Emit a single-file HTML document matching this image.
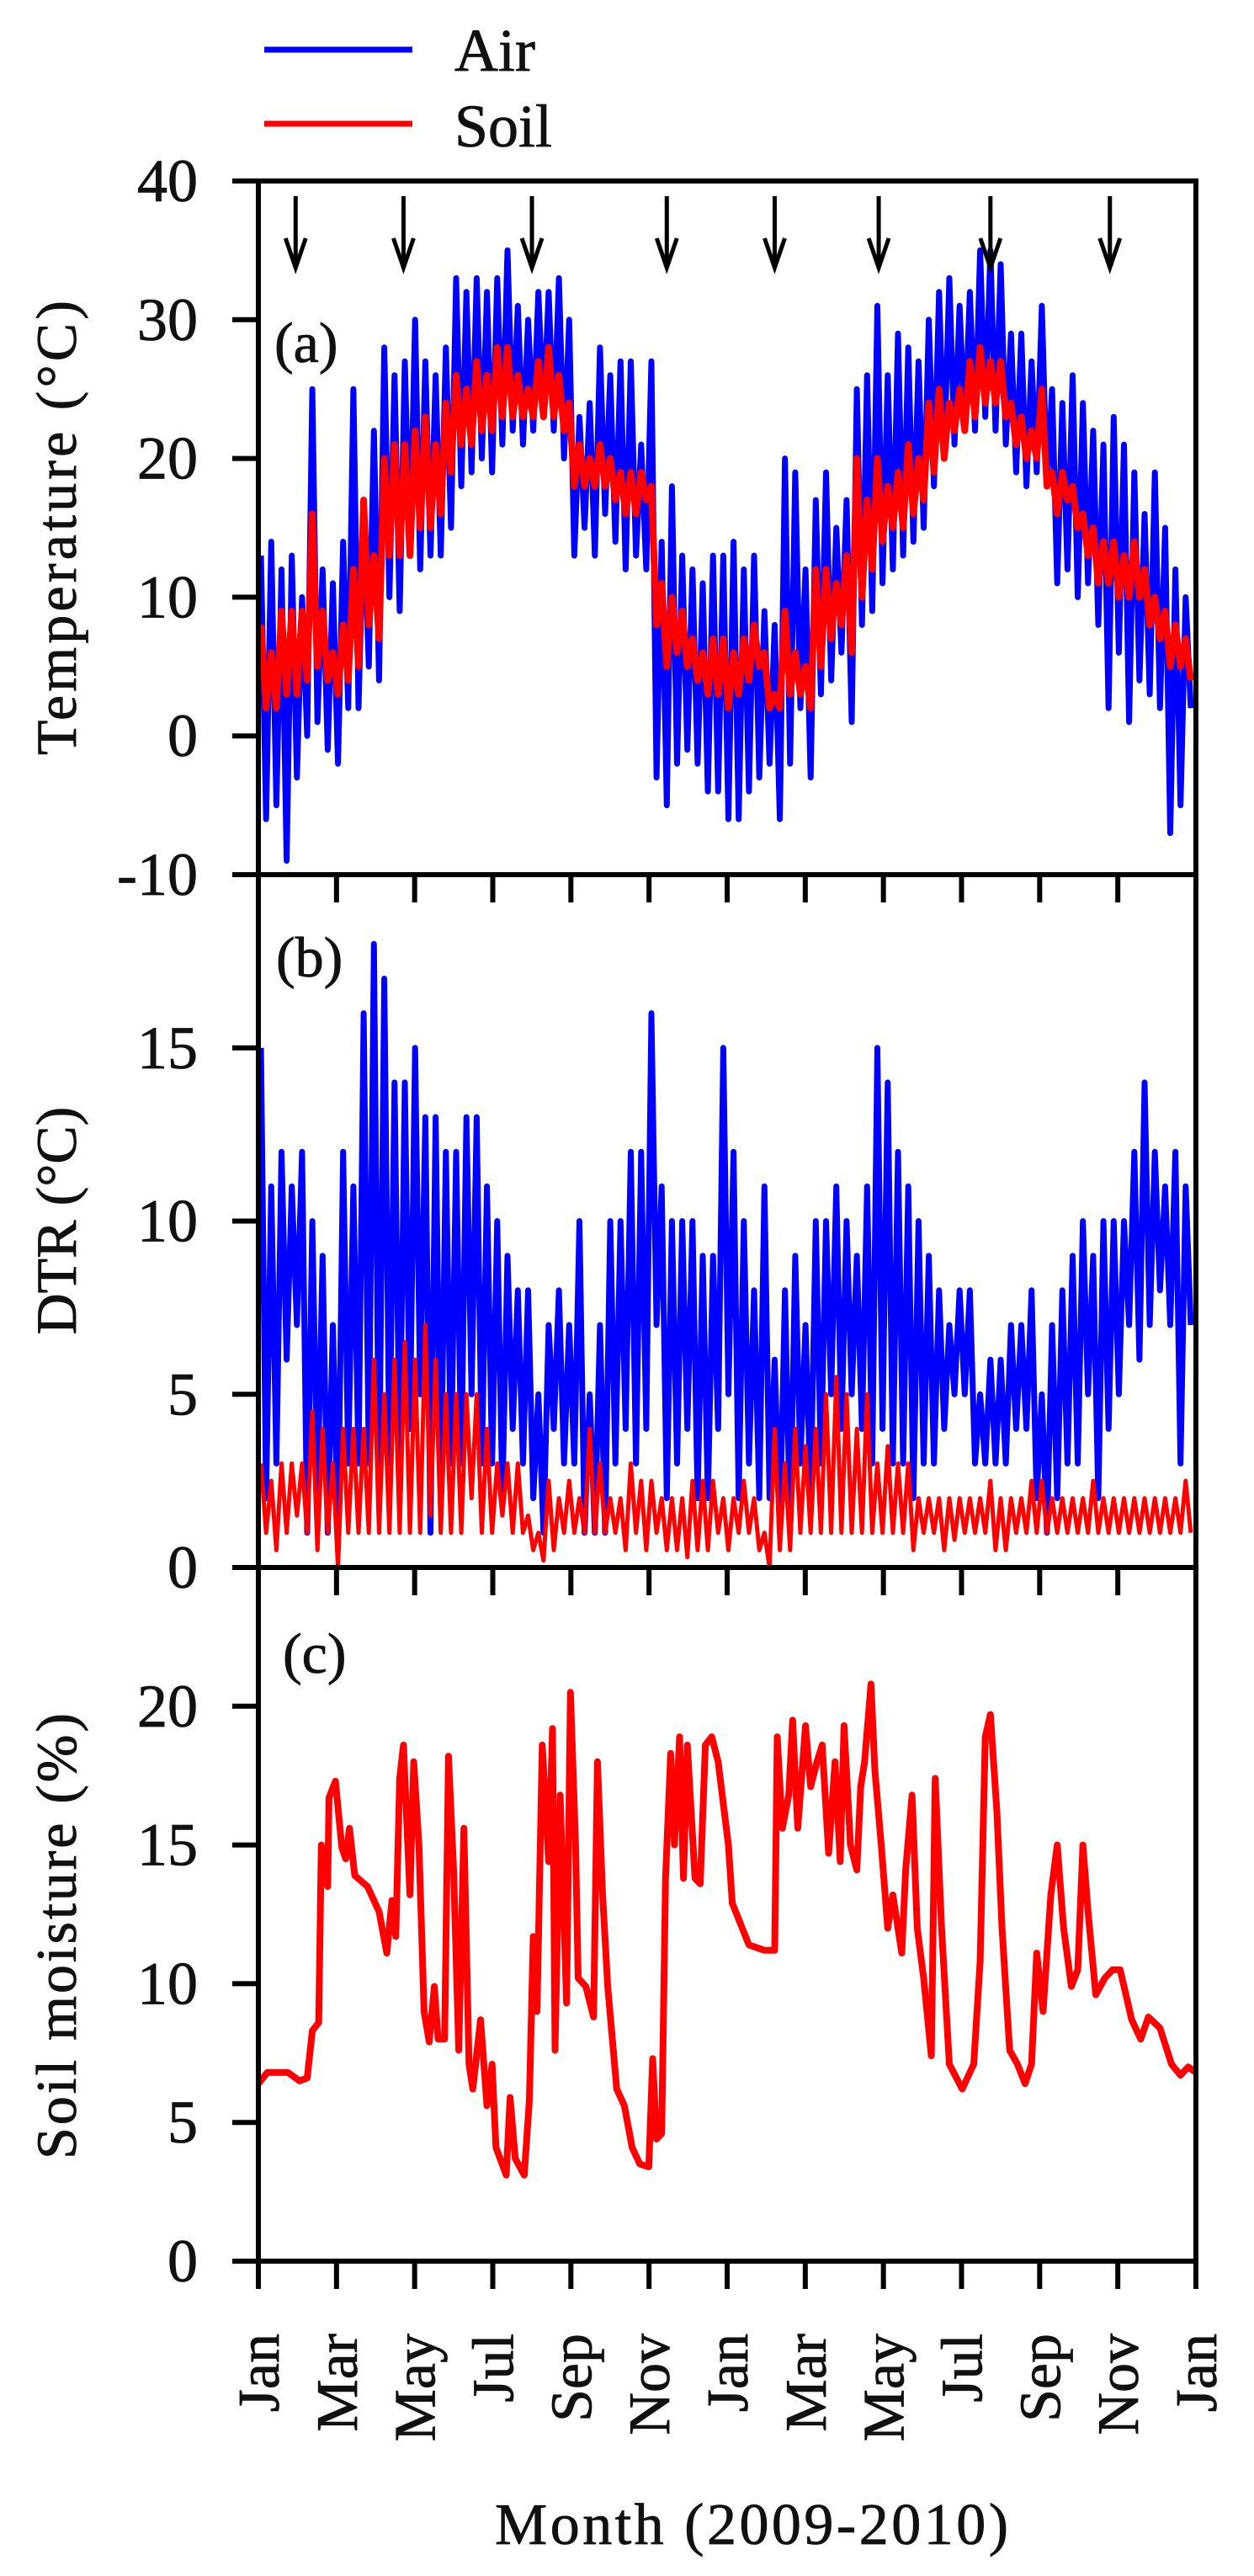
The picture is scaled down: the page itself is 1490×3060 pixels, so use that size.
<!DOCTYPE html>
<html><head><meta charset="utf-8">
<style>
html,body{margin:0;padding:0;background:#fff;}
svg{display:block;}
text{font-family:"Liberation Serif","DejaVu Serif",serif;fill:#111;stroke:#111;stroke-width:0.8;}
</style></head>
<body>
<svg id="chart" width="1490" height="3060" viewBox="0 0 1490 3060" xmlns="http://www.w3.org/2000/svg">
<g id="legend">
 <line x1="314" y1="59" x2="490" y2="59" stroke="#0000ff" stroke-width="7"/>
 <text x="540" y="84" font-size="72">Air</text>
 <line x1="314" y1="147" x2="490" y2="147" stroke="#ff0000" stroke-width="7"/>
 <text x="540" y="174" font-size="72">Soil</text>
</g>
<g id="marks"></g>
<g id="axes"></g>
</svg>
<script>
// ---- data (8-day blocks, block i covers days 8i..8i+8) ----
const months = ["Jan","Mar","May","Jul","Sep","Nov","Jan","Mar","May","Jul","Sep","Nov","Jan"];
const tempTicks = [40,30,20,10,0,-10];
const dtrTicks = [15,10,5,0];
const smTicks = [20,15,10,5,0];
const arrowDays = [29,113,213,318,402,483,570,663];
const airTempHi = [13,14,12,13,10,25,12,11,14,25,16,22,28,26,27,30,27,26,28,33,32,33,32,33,35,31,30,32,32,33,30,23,24,28,26,27,27,21,27,14,18,13,12,11,13,13,14,12,13,9,8,20,19,12,17,19,15,17,25,26,31,26,29,28,27,30,32,33,31,32,35,35,34,29,29,27,31,25,24,26,24,22,21,23,21,19,16,19,15,12,10];
const airTempLo = [-6,-5,-9,-3,0,1,-1,-2,2,2,5,4,10,9,13,12,13,13,15,18,19,20,19,21,22,21,22,23,22,20,13,15,13,16,14,12,13,12,-3,-5,-2,-1,-2,-4,-4,-6,-6,-4,-3,-2,-6,-2,2,-3,3,4,6,1,8,9,11,12,13,14,15,18,20,21,22,22,23,22,21,19,18,19,18,11,12,10,11,8,2,6,1,4,3,2,-7,-5,2];
const soilTempHi = [8,6,9,9,9,16,9,6,8,12,17,13,20,21,21,22,23,21,24,26,25,27,26,28,28,26,25,27,28,26,24,21,20,21,20,19,19,19,18,11,10,9,7,6,7,7,6,7,8,6,3,9,6,5,12,12,11,13,20,17,20,18,19,21,20,24,25,24,25,27,28,27,27,24,23,22,25,19,19,18,16,15,14,14,13,14,12,10,9,8,7];
const soilTempLo = [2,2,3,3,4,5,4,3,4,5,8,7,13,13,13,15,15,16,19,21,21,22,22,23,23,23,23,23,23,22,18,18,18,18,17,16,16,17,8,5,6,5,4,3,3,2,3,4,5,2,2,3,3,2,5,7,8,6,10,12,14,15,15,16,17,19,20,22,22,23,24,24,23,21,20,20,18,16,17,15,13,11,11,10,10,10,8,7,5,5,4];
const airDtrHi = [15,11,12,11,12,10,9,7,12,11,16,18,17,14,14,15,13,13,12,12,13,13,11,10,9,8,8,5,7,8,7,10,5,7,10,10,12,12,16,11,10,10,10,9,9,15,12,10,8,11,6,8,9,7,10,10,11,10,9,11,15,14,12,11,10,9,8,7,8,8,5,6,6,7,7,8,5,7,8,9,10,9,10,10,10,12,14,12,11,12,11];
const airDtrLo = [2,3,6,7,1,2,1,1,3,3,3,2,3,3,4,5,1,2,3,3,5,3,3,2,4,3,2,1,4,3,3,1,1,1,3,4,3,4,7,2,3,4,2,2,4,5,2,3,2,2,1,1,3,2,3,5,4,5,4,3,4,3,3,2,3,3,4,5,5,3,3,3,3,4,4,2,1,2,3,3,5,2,4,5,7,6,7,8,7,3,7];
const soilDtrHi = [3,2.5,3,3,3,4.5,4,3,4,4,4,6,5,6,6.5,6,7,6,5,5,5,5,4,3,3,3,1.5,1,2.5,2,2.5,2,4,3,2,2,3,2.5,2.5,2,2,2,2.5,2.5,2.5,2,2,2.5,2,1,4,3,4,3.5,4,5,5.5,5,4,5,3,3.5,3,3,2,2,2,2,2,2,2,2.5,2,2,2,2.5,2.5,2,2,2,2,2.5,2,2,2,2,2,2,2,2,2.5];
const soilDtrLo = [1,0.5,1,1.5,1,0.5,1,0,1,1,1,1,1,1,1,1,1.5,1,1,1,2,1,1,1.5,1,1,0.5,0.2,0.5,1,1,1,1,1,1,0.5,1,0.5,1,0.5,0.5,0.3,0.5,0.5,1,0.5,1,1,0.5,0,0.5,0.5,1,1,1,1,1,1,1,1,1,1,1,0.5,1,1,0.5,0.8,1,1,1,0.5,0.5,1,1,1,1,1,1,1,1,1,1,1,1,1,1,1,1,1,1];
const smDays = [0,7,23,32,38,42,47,49,54,55,60,65,68,71,75,85,94,100,104,107,110,113,118,121,125,129,133,137,140,145,148,152,156,160,164,167,173,178,182,185,193,196,200,207,211,214,217,221,226,229,231,235,240,243,247,249,255,261,264,268,272,279,285,291,297,304,307,310,314,317,321,324,328,331,334,340,344,348,353,358,366,369,382,394,402,404,408,413,416,420,426,430,435,439,444,449,453,456,461,466,469,472,477,480,485,490,494,501,504,509,513,518,524,527,532,538,548,557,562,566,570,575,579,585,591,597,602,606,611,617,622,627,633,638,642,646,652,659,665,671,680,687,693,702,711,718,724,730];
const smValues = [6.4,6.8,6.8,6.5,6.6,8.3,8.6,15,13.5,16.7,17.3,14.9,14.5,15.6,13.9,13.5,12.6,11.1,13.0,11.7,17.4,18.6,13.2,18,15,9,7.9,9.9,8,8,18.2,14.1,7.6,15.6,7.1,6.2,8.7,5.6,7.1,4.1,3.1,5.9,3.7,3.1,5.8,11.7,9,18.6,14.4,19.2,7.6,16.8,9.3,20.5,15,10.2,9.9,8.8,18,13.2,9.9,6.2,5.6,4.1,3.5,3.4,7.3,4.4,4.6,13.8,18.3,15,18.9,13.8,18.6,13.8,13.6,18.6,18.9,18,15,12.9,11.4,11.2,11.2,18.9,15.6,16.8,19.5,15.6,19.3,17.1,18,18.6,14.7,18,14.4,19.3,15,14.1,17.1,18,20.8,17.7,15,12,13.2,11.1,14.1,16.8,12,10.2,7.4,17.4,12,7.1,6.2,7.1,10.8,18.9,19.7,16.2,12,7.6,7.1,6.4,7.1,11.1,9,13.2,15,12,9.9,10.5,15,12.6,9.6,10.2,10.5,10.5,8.7,8,8.8,8.4,7.1,6.7,7,6.8];

// ---- layout ----
const X0 = 307, X1 = 1421, DAYS = 730;
const xs = d => X0 + (X1 - X0) * d / DAYS;
const panels = {
  a:{top:215, bot:1039, min:-10, max:40},
  b:{top:1039, bot:1862, min:0, max:20},
  c:{top:1862, bot:2686, min:0, max:25}
};
const ys = (p, v) => p.bot - (v - p.min) / (p.max - p.min) * (p.bot - p.top);
const NS = "http://www.w3.org/2000/svg";
const marks = document.getElementById('marks');
const axes = document.getElementById('axes');
function mk(tag, attrs, parent){
  const e = document.createElementNS(NS, tag);
  for (const k in attrs) e.setAttribute(k, attrs[k]);
  parent.appendChild(e); return e;
}
function zigzag(hi, lo, p){
  const pts = [];
  for (let i = 0; i < hi.length; i++){
    const d0 = Math.min(DAYS, i*8+2), d1 = Math.min(DAYS, i*8+6);
    pts.push(xs(d0).toFixed(1)+","+ys(p,hi[i]).toFixed(1));
    pts.push(xs(d1).toFixed(1)+","+ys(p,lo[i]).toFixed(1));
  }
  return pts.join(" ");
}
let el;
el = mk('polyline',{points:zigzag(airTempHi,airTempLo,panels.a),fill:'none',stroke:'#0000ff','stroke-width':7,'stroke-linejoin':'round'},marks);


el = mk('polyline',{points:zigzag(soilTempHi,soilTempLo,panels.a),fill:'none',stroke:'#ff0000','stroke-width':8,'stroke-linejoin':'round'},marks);


el = mk('polyline',{points:zigzag(airDtrHi,airDtrLo,panels.b),fill:'none',stroke:'#0000ff','stroke-width':7,'stroke-linejoin':'round'},marks);


el = mk('polyline',{points:zigzag(soilDtrHi,soilDtrLo,panels.b),fill:'none',stroke:'#ff0000','stroke-width':5,'stroke-linejoin':'round'},marks);


el = mk('polyline',{points:smDays.map((d,i)=>xs(d).toFixed(1)+","+ys(panels.c,smValues[i]).toFixed(1)).join(" "),fill:'none',stroke:'#ff0000','stroke-width':8,'stroke-linejoin':'round'},marks);



// arrows
arrowDays.forEach(d=>{
  const x = xs(d);
  const g = mk('g',{stroke:'#000','stroke-width':5,fill:'none'},axes);
  
  
  mk('line',{x1:x,y1:233,x2:x,y2:318},g);
  mk('polyline',{points:`${x-12},${283} ${x},${318} ${x+12},${283}`},g);
});

// panel frames & ticks
const ax = {stroke:'#000','stroke-width':6,fill:'none'};
function yAxis(p, ticks, name){
  el = mk('rect',Object.assign({x:X0,y:p.top,width:X1-X0,height:p.bot-p.top},ax),axes);
  
  
  ticks.forEach(t=>{
    const y = ys(p,t);
    mk('line',Object.assign({x1:X0-31,y1:y,x2:X0,y2:y},ax),axes);
    el = mk('text',{x:235,y:y+24,'font-size':72,'text-anchor':'end'},axes);
    el.textContent = t;
    
    
  });
  months.forEach((m,i)=>{
    const x = X0 + (X1-X0)*i/12;
    mk('line',Object.assign({x1:x,y1:p.bot,x2:x,y2:p.bot+33},ax),axes);
  });
}
yAxis(panels.a,tempTicks,'temperature-axis');
yAxis(panels.b,dtrTicks,'dtr-axis');
yAxis(panels.c,smTicks,'soil-moisture-axis');

// month labels
months.forEach((m,i)=>{
  const x = X0 + (X1-X0)*i/12;
  el = mk('text',{x:0,y:0,'font-size':70,'text-anchor':'end',transform:`translate(${x+24},2772) rotate(-90)`},axes);
  el.textContent = m;
  
  
});

// panel letters and titles
function txt(s, attrs, name){
  el = mk('text',attrs,axes); el.textContent = s;
  
  
}
txt('(a)',{x:326,y:430,'font-size':68},'panel-a-label');
txt('(b)',{x:328,y:1160,'font-size':68},'panel-b-label');
txt('(c)',{x:336,y:1987,'font-size':68},'panel-c-label');
txt('Temperature (°C)',{x:0,y:0,'font-size':68,'text-anchor':'middle',textLength:540,transform:'translate(90,627) rotate(-90)'},'temperature-y-axis-title');
txt('DTR (°C)',{x:0,y:0,'font-size':68,'text-anchor':'middle',transform:'translate(90,1450) rotate(-90)'},'dtr-y-axis-title');
txt('Soil moisture (%)',{x:0,y:0,'font-size':68,'text-anchor':'middle',textLength:530,transform:'translate(90,2300) rotate(-90)'},'soil-moisture-y-axis-title');
txt('Month (2009-2010)',{x:893,y:3022,'font-size':70,'text-anchor':'middle',textLength:610},'x-axis-title');
</script>
</body></html>
